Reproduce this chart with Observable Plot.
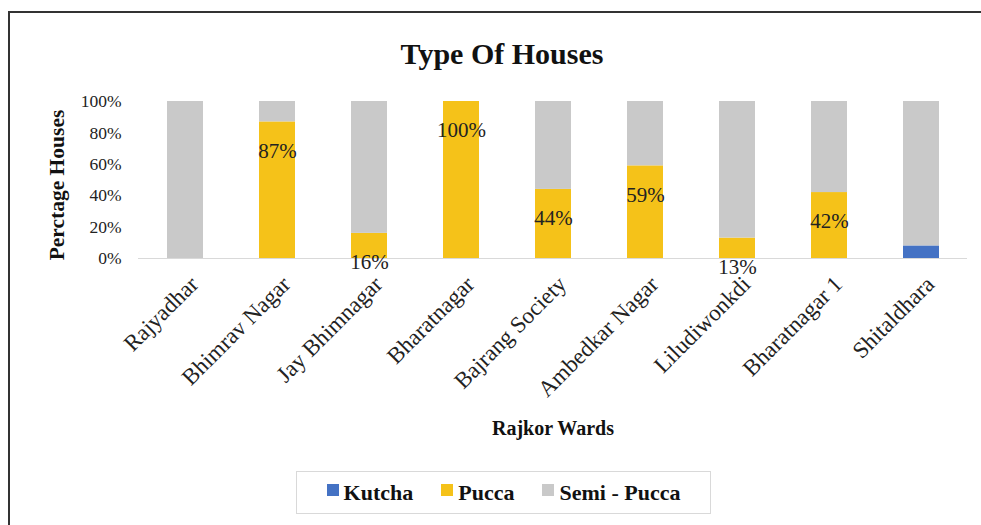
<!DOCTYPE html>
<html><head><meta charset="utf-8">
<script src="https://cdn.jsdelivr.net/npm/d3@7"></script>
<script src="https://cdn.jsdelivr.net/npm/@observablehq/plot@0.6"></script>
<style>
body{margin:0;background:#fff;}
#wrap{position:relative;width:981px;height:525px;overflow:hidden;font-family:"Liberation Serif",serif;color:#111;}
#frame{position:absolute;left:8px;top:11px;width:1000px;height:600px;border-top:2px solid #333;border-left:2px solid #333;}
#title{position:absolute;left:0;width:1004px;top:36px;text-align:center;font-weight:bold;font-size:30px;line-height:36px;}
#chart{position:absolute;left:0;top:0;}
#legend{position:absolute;left:296px;top:471px;width:413px;height:41px;border:1px solid #d9d9d9;display:flex;align-items:center;justify-content:center;gap:28px;font-weight:bold;font-size:22px;}
#legend .item{display:flex;align-items:center;gap:5px;}
#legend .sw{width:12px;height:12px;display:inline-block;position:relative;top:-3px;}
</style></head>
<body>
<div id="wrap">
  <div id="frame"></div>
  <div id="chart"></div>
  <div id="title">Type Of Houses</div>
  <div id="legend"></div>
</div>
<script>
const wards = ["Rajyadhar","Bhimrav Nagar","Jay Bhimnagar","Bharatnagar","Bajrang Society","Ambedkar Nagar","Liludiwonkdi","Bharatnagar 1","Shitaldhara"];
const kutcha = [0,0,0,0,0,0,0,0,8];
const pucca = [0,87,16,100,44,59,13,42,0];
const semiPucca = [100,13,84,0,56,41,87,58,92];
const seriesNames = ["Kutcha","Pucca","Semi - Pucca"];
const seriesColors = ["#4472C4","#F5C219","#C9C9C9"];
const yTicks = [0,20,40,60,80,100];
const title = "Type Of Houses";
const xTitle = "Rajkor Wards";
const yTitle = "Perctage Houses";

const seriesValues = [kutcha, pucca, semiPucca];
const rows = [];
wards.forEach((w, i) => {
  seriesNames.forEach((s, j) => rows.push({ward: w, series: s, value: seriesValues[j][i]}));
});
const labelRows = wards.map((w, i) => ({ward: w, top: kutcha[i] + pucca[i], value: pucca[i]})).filter(d => d.value > 0);

const chart = Plot.plot({
  width: 981,
  height: 450,
  marginTop: 101,
  marginBottom: 192,
  marginLeft: 138,
  marginRight: 14,
  style: {fontFamily: "Liberation Serif, serif", color: "#222", background: "transparent"},
  x: {domain: wards, paddingInner: 0.61, paddingOuter: 0.305, label: null},
  y: {domain: [0, 100], label: null},
  color: {domain: seriesNames, range: seriesColors},
  marks: [
    Plot.barY(rows, {x: "ward", y: "value", fill: "series", order: seriesNames}),
    Plot.ruleY([0], {stroke: "#d9d9d9", strokeWidth: 1.2}),
    Plot.axisY({ticks: yTicks, tickFormat: d => d + "%", tickSize: 0, tickPadding: 17, fontSize: 17.5, label: null}),
    Plot.axisX({tickSize: 0, tickRotate: -45, tickPadding: 22, dx: 9, fontSize: 23, label: null}),
    Plot.text(labelRows, {x: "ward", y: "top", text: d => d.value + "%", dy: 29, fontSize: 21, fill: "#222"}),
    Plot.text([xTitle], {frameAnchor: "bottom", dy: 176, fontSize: 20, fontWeight: "bold", fill: "#111"}),
    Plot.text([yTitle], {frameAnchor: "left", textAnchor: "middle", dx: -81, dy: 5, rotate: -90, fontSize: 21.5, fontWeight: "bold", fill: "#111"})
  ]
});
document.getElementById("chart").appendChild(chart);
document.getElementById("title").textContent = title;

const legend = document.getElementById("legend");
seriesNames.forEach((s, j) => {
  const item = document.createElement("span");
  item.className = "item";
  const sw = document.createElement("span");
  sw.className = "sw";
  sw.style.background = seriesColors[j];
  item.appendChild(sw);
  item.appendChild(document.createTextNode(s));
  legend.appendChild(item);
});
</script>
</body></html>
